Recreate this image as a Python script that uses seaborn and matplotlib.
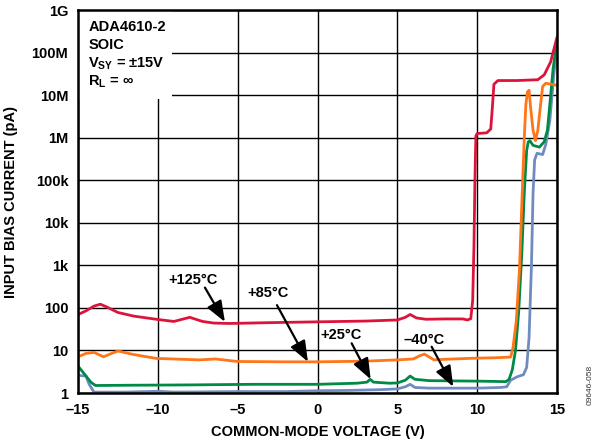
import numpy as np
import pandas as pd
import matplotlib
matplotlib.use("Agg")
import matplotlib.pyplot as plt
import seaborn as sns
from matplotlib.patches import Rectangle

sns.set_theme(style="white")
plt.rcParams['font.family'] = ['Liberation Sans', 'DejaVu Sans']
plt.rcParams['font.weight'] = 'bold'
plt.rcParams['text.color'] = 'black'
plt.rcParams['axes.labelcolor'] = 'black'
plt.rcParams['mathtext.fontset'] = 'custom'
plt.rcParams['mathtext.bf'] = 'Liberation Sans:bold'
plt.rcParams['mathtext.rm'] = 'Liberation Sans:bold'
plt.rcParams['mathtext.default'] = 'bf'

# ---- data ----
red_v = [-15, -14.5, -14.0, -13.6, -13.2, -12.5, -11.5, -10.1, -9.0, -8.0, -7.2, -6.5, -5.5,
         -3, 0, 3, 5, 5.5, 5.8, 6.2, 6.8, 8, 9.1, 9.4, 9.6, 9.72, 9.8, 9.86, 9.92, 10.0, 10.6,
         10.85, 10.95, 11.05, 11.3, 12.5, 13.8, 14.2, 14.6, 15]
red_i = [70, 85, 110, 122, 105, 78, 64, 54, 48, 60, 48, 44, 43,
         45, 47, 49, 52, 60, 70, 58, 54, 55, 55, 52, 56, 150, 3e3, 1e5, 1.1e6, 1.25e6, 1.3e6,
         1.6e6, 5e6, 1.8e7, 2.2e7, 2.2e7, 2.3e7, 3e7, 6e7, 2.3e8]

orange_v = [-15, -14.5, -14.0, -13.4, -12.9, -12.5, -11.5, -10.1, -8.5, -7.4, -6.4, -5, -2, 0,
            3, 5, 6.0, 6.4, 6.7, 7.0, 7.3, 8, 9, 10, 11, 12.1, 12.25, 12.45, 12.65, 12.8,
            12.95, 13.05, 13.15, 13.25, 13.35, 13.5, 13.65, 13.8, 13.95, 14.1, 14.3, 15]
orange_i = [7.1, 8.5, 9.0, 7.1, 8.5, 9.7, 8, 6.5, 6.2, 6.0, 6.3, 5.5, 5.4, 5.4,
            5.6, 6.0, 6.3, 7.5, 8.2, 7, 6.0, 6.2, 6.4, 6.6, 6.7, 7, 12, 50, 800, 3e4,
            1e6, 6e6, 1.2e7, 1.3e7, 5e6, 1.5e6, 0.85e6, 1.5e6, 5e6, 1.6e7, 1.9e7, 1.7e7]

green_v = [-15, -14.6, -14.2, -13.9, -12, -8, -4, -1, 0, 2.5, 3.1, 3.3, 3.5, 4.5, 5.0, 5.5,
           5.8, 6.1, 7, 10, 11.8, 12.0, 12.2, 12.4, 12.6, 12.8, 12.95, 13.1, 13.2, 13.3, 13.5,
           13.9, 14.2, 14.4, 14.55, 14.75, 15]
green_i = [4.3, 2.8, 1.8, 1.5, 1.52, 1.55, 1.6, 1.6, 1.6, 1.7, 1.8, 2.1, 1.8, 1.7, 1.72, 2.0,
           2.5, 2.1, 1.95, 1.9, 1.85, 2.1, 3.5, 10, 80, 2e3, 5e4, 5e5, 8e5, 8.5e5, 6.6e5,
           6e5, 8e5, 1.5e6, 6e6, 4e7, 2e8]

blue_v = [-15, -14.5, -14.3, -14.0, -12, -10, -9, -5, -2, 0, 2, 4, 5, 5.5, 5.8, 6.1, 7, 8.5,
          10, 11.5, 11.85, 12.1, 12.5, 12.9, 13.1, 13.25, 13.4, 13.5, 13.6, 13.75, 14.1, 14.3,
          14.55, 14.8, 15]
blue_i = [2.6, 2.5, 1.6, 1.05, 1.05, 1.1, 1.05, 1.08, 1.08, 1.13, 1.15, 1.2, 1.25, 1.4, 1.6,
          1.35, 1.3, 1.3, 1.3, 1.35, 1.4, 2.0, 2.4, 2.7, 4, 20, 1e3, 5e4, 3e5, 4.3e5, 4e5, 7e5,
          2.5e6, 3e7, 1.5e8]

series_names = ["-40C", "+25C", "+85C", "+125C"]
colors = {"-40C": "#6f8cc0", "+25C": "#008a46", "+85C": "#ff7518", "+125C": "#dc143c"}

x_ticks = [-15, -10, -5, 0, 5, 10, 15]
x_tick_labels = ["\u201315", "\u201310", "\u20135", "0", "5", "10", "15"]
y_ticks = [1, 10, 100, 1e3, 1e4, 1e5, 1e6, 1e7, 1e8, 1e9]
y_tick_labels = ["1", "10", "100", "1k", "10k", "100k", "1M", "10M", "100M", "1G"]

frames = []
for name, v, i in [("-40C", blue_v, blue_i), ("+25C", green_v, green_i),
                   ("+85C", orange_v, orange_i), ("+125C", red_v, red_i)]:
    frames.append(pd.DataFrame({"V": v, "I": i, "T": name, "order": range(len(v))}))
df = pd.concat(frames, ignore_index=True)

fig = plt.figure(figsize=(5.98, 4.48), dpi=100)
ax = fig.add_axes([78 / 598, 1 - 393 / 448, (557 - 78) / 598, (393 - 10) / 448])

ax.set_yscale("log")
for name in series_names:
    sub = df[df["T"] == name]
    sns.lineplot(data=sub, x="V", y="I", sort=False, estimator=None, ax=ax,
                 color=colors[name], lw=2.0, zorder=3, legend=False)

ax.set_xlim(-15, 15)
ax.set_ylim(1, 1e9)
ax.set_xticks(x_ticks)
ax.set_xticklabels(x_tick_labels, fontsize=10.5, fontweight="bold")
ax.set_yticks(y_ticks)
ax.set_yticklabels(y_tick_labels, fontsize=10.5, fontweight="bold")
ax.minorticks_off()
ax.tick_params(axis="both", length=0, pad=7, colors="black", labelcolor="black")
ax.grid(True, color="black", lw=1.0, zorder=0)
ax.set_axisbelow(True)
for s in ax.spines.values():
    s.set_color("black")
    s.set_linewidth(1.8)
    s.set_zorder(5)

ax.set_xlabel("COMMON-MODE VOLTAGE (V)", fontsize=10.5, fontweight="bold", labelpad=6,
              color="black")
ax.set_ylabel("INPUT BIAS CURRENT (pA)", fontsize=10.5, fontweight="bold", labelpad=10,
              color="black")

# white annotation box
ax.add_patch(Rectangle((-15, 8.3e6), 5.9, 1e9 - 8.3e6, facecolor="white",
                       edgecolor="none", zorder=1.5))
tx = -14.35
for k, txt in enumerate(["ADA4610-2", "SOIC", r"V$_{SY}$ = ±15V", r"R$_{L}$ = ∞"]):
    ax.text(tx, 10 ** (8.6 - 0.43 * k), txt, fontsize=10.5, fontweight="bold",
            va="center", ha="left", zorder=4, color="black")

# labels with arrows
labels = [("+125°C", (-7.8, 450), (-7.05, 300), (-5.8, 47)),
          ("+85°C", (-3.1, 223), (-2.54, 116), (-0.6, 5.4)),
          ("+25°C", (1.47, 23), (2.14, 14.7), (3.33, 2.1)),
          ("\u201340°C", (6.67, 17.5), (7.15, 12.2), (8.5, 1.4))]
for txt, tpos, start, end in labels:
    ax.text(tpos[0], tpos[1], txt, fontsize=10.5, fontweight="bold", ha="center",
            va="center", zorder=4, color="black")
    ax.annotate("", xy=end, xytext=start,
                arrowprops=dict(arrowstyle="-|>,head_length=0.9,head_width=0.35",
                                color="black", lw=1.6,
                                mutation_scale=14, shrinkA=0, shrinkB=0), zorder=4)

fig.text(590 / 598, 1 - 385 / 448, "09646-058", rotation=90, fontsize=6,
         fontweight="normal", ha="center", va="center", color="#333333")

fig.savefig("out.png", dpi=100)
